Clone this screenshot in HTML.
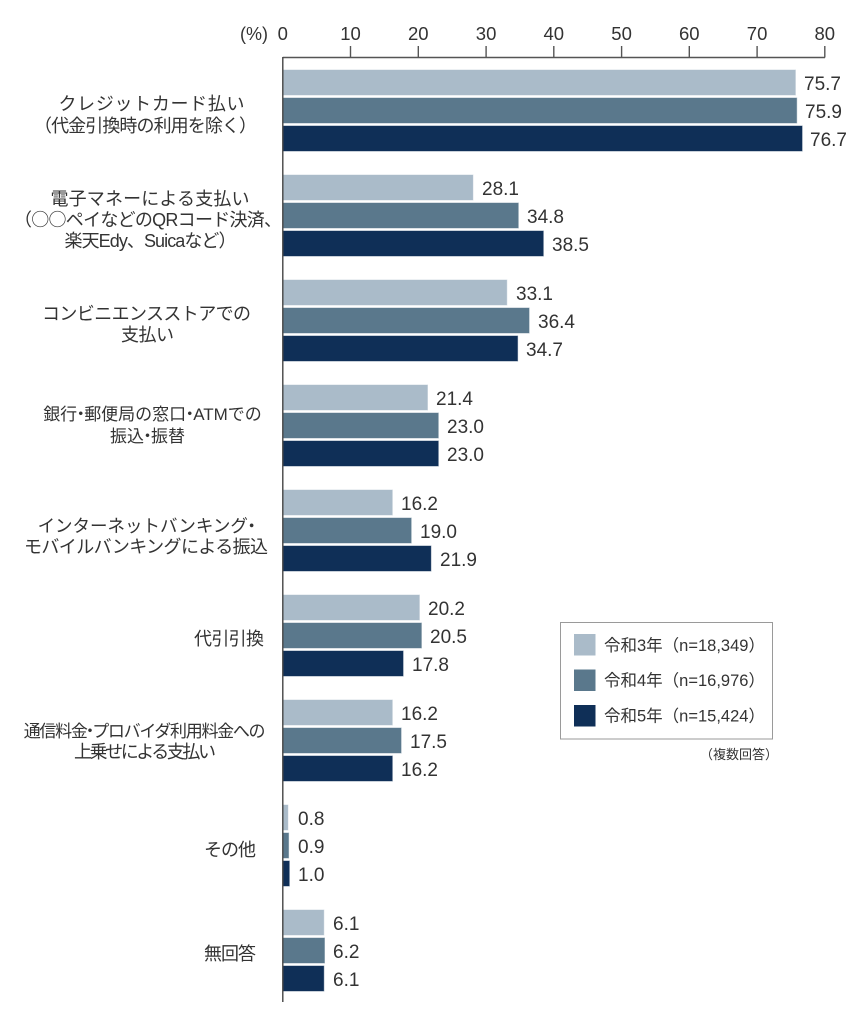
<!DOCTYPE html>
<html>
<head>
<meta charset="utf-8">
<style>
html,body{margin:0;padding:0;background:#fff;}
svg{display:block;}
text{font-family:"Liberation Sans","Noto Sans CJK JP",sans-serif;fill:#333;}
.lab{font-size:18px;text-anchor:middle;}
.lab17{font-size:17px;text-anchor:middle;}
.val{font-size:19px;}
.tick{font-size:18.5px;text-anchor:middle;}
.leg{font-size:16.5px;}
.cjk{font-family:"Noto Sans CJK JP",sans-serif;}
</style>
</head>
<body>
<svg width="868" height="1024" viewBox="0 0 868 1024" xmlns="http://www.w3.org/2000/svg">
<!-- axis ticks labels -->
<text x="268" y="40" font-size="18" text-anchor="end">(%)</text>
<text class="tick" x="282.8" y="40">0</text>
<text class="tick" x="350.5" y="40">10</text>
<text class="tick" x="418.3" y="40">20</text>
<text class="tick" x="486.1" y="40">30</text>
<text class="tick" x="553.8" y="40">40</text>
<text class="tick" x="621.6" y="40">50</text>
<text class="tick" x="689.3" y="40">60</text>
<text class="tick" x="757.1" y="40">70</text>
<text class="tick" x="824.8" y="40">80</text>
<g stroke="#555" stroke-width="1.4" fill="none">
<line x1="282.8" y1="57.5" x2="825" y2="57.5"/>
<line x1="350.5" y1="46" x2="350.5" y2="57.5"/>
<line x1="418.3" y1="46" x2="418.3" y2="57.5"/>
<line x1="486.1" y1="46" x2="486.1" y2="57.5"/>
<line x1="553.8" y1="46" x2="553.8" y2="57.5"/>
<line x1="621.6" y1="46" x2="621.6" y2="57.5"/>
<line x1="689.3" y1="46" x2="689.3" y2="57.5"/>
<line x1="757.1" y1="46" x2="757.1" y2="57.5"/>
<line x1="824.8" y1="46" x2="824.8" y2="57.5"/>
</g>

<!-- bars -->
<g stroke="#ffffff" stroke-opacity="0.55" stroke-width="1">
<rect x="283" y="69.5" width="512.9" height="26" fill="#aabbc9"/>
<rect x="283" y="97.5" width="514.2" height="26" fill="#5a788c"/>
<rect x="283" y="125.5" width="519.6" height="26" fill="#0f2f57"/>
<rect x="283" y="174.5" width="190.4" height="26" fill="#aabbc9"/>
<rect x="283" y="202.5" width="235.8" height="26" fill="#5a788c"/>
<rect x="283" y="230.5" width="260.8" height="26" fill="#0f2f57"/>
<rect x="283" y="279.5" width="224.3" height="26" fill="#aabbc9"/>
<rect x="283" y="307.5" width="246.6" height="26" fill="#5a788c"/>
<rect x="283" y="335.5" width="235.1" height="26" fill="#0f2f57"/>
<rect x="283" y="384.5" width="145.0" height="26" fill="#aabbc9"/>
<rect x="283" y="412.5" width="155.8" height="26" fill="#5a788c"/>
<rect x="283" y="440.5" width="155.8" height="26" fill="#0f2f57"/>
<rect x="283" y="489.5" width="109.8" height="26" fill="#aabbc9"/>
<rect x="283" y="517.5" width="128.7" height="26" fill="#5a788c"/>
<rect x="283" y="545.5" width="148.4" height="26" fill="#0f2f57"/>
<rect x="283" y="594.5" width="136.9" height="26" fill="#aabbc9"/>
<rect x="283" y="622.5" width="138.9" height="26" fill="#5a788c"/>
<rect x="283" y="650.5" width="120.6" height="26" fill="#0f2f57"/>
<rect x="283" y="699.5" width="109.8" height="26" fill="#aabbc9"/>
<rect x="283" y="727.5" width="118.6" height="26" fill="#5a788c"/>
<rect x="283" y="755.5" width="109.8" height="26" fill="#0f2f57"/>
<rect x="283" y="804.5" width="5.4" height="26" fill="#aabbc9"/>
<rect x="283" y="832.5" width="6.1" height="26" fill="#5a788c"/>
<rect x="283" y="860.5" width="6.8" height="26" fill="#0f2f57"/>
<rect x="283" y="909.5" width="41.3" height="26" fill="#aabbc9"/>
<rect x="283" y="937.5" width="42.0" height="26" fill="#5a788c"/>
<rect x="283" y="965.5" width="41.3" height="26" fill="#0f2f57"/>
</g>

<!-- vertical axis -->
<line x1="282.8" y1="57" x2="282.8" y2="1002" stroke="#444" stroke-width="1.4"/>

<!-- values -->
<text class="val" x="804" y="90">75.7</text>
<text class="val" x="805" y="118">75.9</text>
<text class="val" x="810" y="146">76.7</text>

<text class="val" x="482" y="195">28.1</text>
<text class="val" x="527" y="223">34.8</text>
<text class="val" x="552" y="251">38.5</text>

<text class="val" x="516" y="300">33.1</text>
<text class="val" x="538" y="328">36.4</text>
<text class="val" x="526" y="356">34.7</text>

<text class="val" x="436" y="405">21.4</text>
<text class="val" x="447" y="433">23.0</text>
<text class="val" x="447" y="461">23.0</text>

<text class="val" x="401" y="510">16.2</text>
<text class="val" x="420" y="538">19.0</text>
<text class="val" x="440" y="566">21.9</text>

<text class="val" x="428" y="615">20.2</text>
<text class="val" x="430" y="643">20.5</text>
<text class="val" x="412" y="671">17.8</text>

<text class="val" x="401" y="720">16.2</text>
<text class="val" x="410" y="748">17.5</text>
<text class="val" x="401" y="776">16.2</text>

<text class="val" x="298" y="825">0.8</text>
<text class="val" x="298" y="853">0.9</text>
<text class="val" x="298" y="881">1.0</text>

<text class="val" x="333" y="930">6.1</text>
<text class="val" x="333" y="958">6.2</text>
<text class="val" x="333" y="986">6.1</text>

<!-- category labels -->
<text class="lab" x="151.5" y="110" textLength="186" lengthAdjust="spacing">クレジットカード払い</text>
<text class="lab" x="145.5" y="132" textLength="223" lengthAdjust="spacing">（代金引換時の利用を除く）</text>

<text class="lab" x="150" y="205" textLength="199" lengthAdjust="spacing">電子マネーによる支払い</text>
<text class="lab" x="148" y="226" textLength="268" lengthAdjust="spacing">（<tspan class="cjk">○○</tspan>ペイなどのQRコード決済、</text>
<text class="lab" x="150.5" y="247" textLength="172" lengthAdjust="spacing">楽天Edy、Suicaなど）</text>

<text class="lab" x="146.5" y="320" textLength="209" lengthAdjust="spacing">コンビニエンスストアでの</text>
<text class="lab" x="147.5" y="341" textLength="53" lengthAdjust="spacing">支払い</text>

<text class="lab17" x="152.5" y="420">銀行<tspan dx="-5">・</tspan><tspan dx="-5">郵便局の窓口</tspan><tspan dx="-5">・</tspan><tspan dx="-5">ATMでの</tspan></text>
<text class="lab17" x="147.5" y="442">振込<tspan dx="-5">・</tspan><tspan dx="-5">振替</tspan></text>

<text class="lab17" x="149" y="532" style="font-size:17.5px">インターネットバンキング<tspan dx="-5">・</tspan></text>
<text class="lab" x="146" y="553" textLength="244" lengthAdjust="spacing">モバイルバンキングによる振込</text>

<text class="lab" x="229" y="645" textLength="70" lengthAdjust="spacing">代引引換</text>

<text class="lab17" x="144" y="737" style="letter-spacing:-1.3px">通信料金<tspan dx="-5">・</tspan><tspan dx="-5">プロバイダ利用料金への</tspan></text>
<text class="lab" x="145" y="758" textLength="142" lengthAdjust="spacing">上乗せによる支払い</text>

<text class="lab" x="230" y="856" textLength="52" lengthAdjust="spacing">その他</text>

<text class="lab" x="230" y="960" textLength="52" lengthAdjust="spacing">無回答</text>

<!-- legend -->
<rect x="560.5" y="622.5" width="212" height="116.5" fill="#fff" stroke="#9a9a9a" stroke-width="1"/>
<rect x="574" y="634" width="21.5" height="21.5" fill="#aabbc9"/>
<rect x="574" y="669.5" width="21.5" height="21.5" fill="#5a788c"/>
<rect x="574" y="705" width="21.5" height="21.5" fill="#0f2f57"/>
<text class="leg" x="604" y="651">令和3年（n=18,349）</text>
<text class="leg" x="604" y="686">令和4年（n=16,976）</text>
<text class="leg" x="604" y="721.5">令和5年（n=15,424）</text>
<text x="778" y="759" font-size="13" text-anchor="end">（複数回答）</text>
</svg>
</body>
</html>
